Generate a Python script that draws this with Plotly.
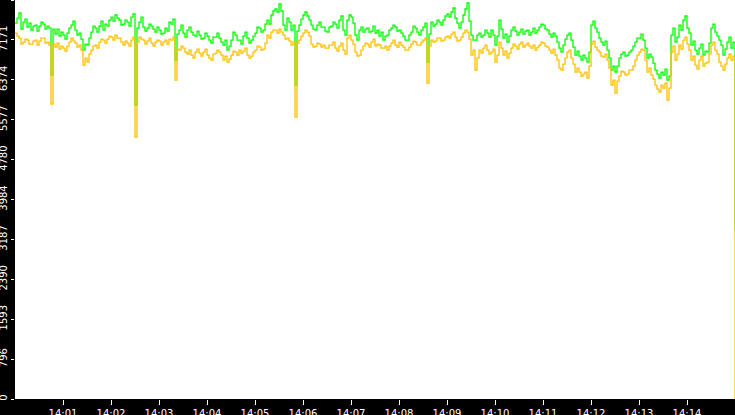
import pandas as pd
import plotly.graph_objects as go

# samples every 2.5 seconds, 14:00:00 -> 14:15:00
times = pd.date_range("2024-01-01 14:00:00", "2024-01-01 14:15:00", freq="2500ms")

green_vals = [
    7508, 7608, 7708, 7388, 7528, 7588, 7428, 7508, 7368, 7448,
    7468, 7348, 7448, 7528, 7488, 7388, 7448, 7408, 6468, 7388,
    7288, 7388, 7248, 7328, 7268, 7188, 7308, 7408, 7468, 7548,
    7368, 7268, 7308, 7188, 6968, 7088, 7068, 7208, 7328, 7448,
    7408, 7328, 7448, 7548, 7368, 7488, 7448, 7568, 7628, 7548,
    7668, 7608, 7568, 7468, 7488, 7568, 7528, 7448, 7628, 7688,
    5868, 7408, 7528, 7628, 7428, 7348, 7408, 7488, 7448, 7388,
    7328, 7428, 7368, 7288, 7308, 7408, 7348, 7528, 7488, 7588,
    6768, 7288, 7368, 7468, 7308, 7228, 7368, 7428, 7328, 7268,
    7248, 7348, 7268, 7188, 7208, 7308, 7248, 7168, 7108, 7228,
    7228, 7308, 7208, 7128, 7068, 7168, 6968, 7048, 7168, 7328,
    7268, 7168, 7168, 7088, 7248, 7328, 7208, 7108, 7168, 7248,
    7308, 7428, 7408, 7328, 7368, 7488, 7568, 7488, 7668, 7748,
    7788, 7728, 7888, 7748, 7468, 7368, 7608, 7528, 7368, 7468,
    6268, 7348, 7468, 7588, 7668, 7728, 7648, 7568, 7468, 7388,
    7368, 7468, 7528, 7428, 7428, 7348, 7328, 7428, 7448, 7528,
    7488, 7408, 7568, 7648, 7368, 7268, 7568, 7668, 7628, 7508,
    7268, 7168, 7368, 7428, 7328, 7388, 7408, 7328, 7348, 7448,
    7308, 7368, 7248, 7328, 7168, 7248, 7268, 7368, 7408, 7468,
    7428, 7348, 7368, 7308, 7248, 7168, 7168, 7268, 7328, 7448,
    7408, 7328, 7268, 7368, 7428, 7508, 6728, 7288, 7528, 7448,
    7488, 7568, 7528, 7468, 7568, 7648, 7688, 7628, 7728, 7808,
    7608, 7508, 7408, 7528, 7668, 7788, 7908, 7548, 7268, 7168,
    7168, 7268, 7308, 7228, 7268, 7368, 7308, 7228, 7368, 7268,
    7068, 7248, 7568, 7388, 7208, 7288, 7128, 7248, 7368, 7428,
    7348, 7268, 7328, 7388, 7288, 7348, 7368, 7268, 7328, 7408,
    7308, 7368, 7428, 7488, 7468, 7388, 7368, 7288, 7228, 7308,
    7248, 7128, 7008, 6928, 7068, 7188, 7268, 7308, 7168, 7028,
    6868, 6948, 6848, 6768, 6868, 6808, 6728, 6928, 7468, 7548,
    7408, 7328, 7208, 7128, 7068, 7148, 6968, 6808, 6568, 6648,
    6528, 6648, 6808, 6888, 6928, 6848, 6868, 6928, 6968, 7048,
    7128, 7208, 7208, 7288, 7168, 7008, 6808, 6888, 6828, 6708,
    6568, 6488, 6408, 6528, 6468, 6588, 6368, 6448, 7268, 7408,
    7128, 7228, 7468, 7368, 7568, 7648, 7408, 7308, 7068, 7148,
    6968, 6888, 7008, 7088, 6868, 6948, 6928, 7108, 7408, 7488,
    7328, 7248, 7168, 7068, 6868, 6988, 7128, 7228, 7008, 7128,
    3370,
]

orange_vals = [
    7308, 7248, 7208, 7088, 7128, 7188, 7168, 7088, 7088, 7148,
    7168, 7068, 7148, 7208, 7208, 7108, 7128, 7068, 5888, 7088,
    7028, 7108, 6988, 7048, 7008, 6948, 7048, 7128, 7208, 7148,
    7108, 7028, 7068, 6968, 6668, 6808, 6728, 6888, 6968, 7048,
    7068, 7008, 7128, 7188, 7168, 7108, 7188, 7248, 7228, 7168,
    7268, 7208, 7208, 7128, 7068, 7148, 7108, 7048, 7168, 7228,
    5228, 7128, 7228, 7188, 7168, 7088, 7148, 7208, 7108, 7048,
    7128, 7168, 7148, 7068, 7128, 7168, 7088, 7188, 7168, 7228,
    6368, 6988, 6968, 7048, 7008, 6928, 6888, 6968, 6868, 6808,
    6928, 6988, 6908, 6848, 6928, 6988, 6868, 6808, 6768, 6888,
    6908, 6968, 6928, 6868, 6768, 6848, 6728, 6788, 6868, 6948,
    6928, 6868, 6968, 6908, 6948, 7008, 6868, 6808, 6848, 6928,
    6968, 7048, 7028, 6968, 6988, 7108, 7268, 7208, 7328, 7368,
    7368, 7308, 7388, 7328, 7268, 7188, 7208, 7148, 7068, 7128,
    5628, 7108, 7168, 7248, 7308, 7368, 7328, 7248, 7088, 7028,
    7048, 7108, 7088, 7028, 7068, 7008, 7008, 7068, 7068, 7128,
    7008, 6948, 7048, 7108, 6968, 6888, 7208, 7268, 7168, 7088,
    6928, 6848, 6868, 6968, 7048, 7108, 7088, 7028, 7128, 7188,
    7048, 7088, 7068, 7008, 7008, 7048, 6968, 7048, 7108, 7168,
    7068, 7028, 7128, 7068, 7028, 6968, 6968, 7028, 7088, 7148,
    7128, 7068, 7068, 7128, 7168, 7208, 6308, 7048, 7168, 7128,
    7148, 7208, 7208, 7148, 7168, 7228, 7248, 7208, 7288, 7328,
    7228, 7148, 7168, 7228, 7308, 7368, 7328, 7188, 6868, 6968,
    6568, 6808, 6968, 6908, 7008, 7068, 6968, 6888, 6928, 6988,
    6728, 6868, 7128, 7008, 6868, 6948, 6808, 6908, 7008, 7088,
    7048, 6988, 7088, 7128, 7028, 7068, 7108, 7048, 7008, 7068,
    6968, 7028, 7068, 7128, 7108, 7048, 7028, 6968, 6908, 6988,
    6868, 6768, 6608, 6568, 6688, 6808, 6928, 6968, 6808, 6688,
    6528, 6608, 6528, 6448, 6488, 6528, 6408, 6648, 7088, 7148,
    7028, 6968, 6928, 6848, 6828, 6888, 6768, 6608, 6268, 6368,
    6108, 6348, 6448, 6548, 6528, 6468, 6488, 6568, 6568, 6648,
    6768, 6868, 6928, 6988, 6968, 6768, 6528, 6608, 6468, 6388,
    6268, 6188, 6128, 6268, 6208, 6308, 5968, 6208, 6928, 7048,
    6768, 6888, 7068, 6988, 7168, 7228, 7088, 6968, 6768, 6848,
    6668, 6588, 6768, 6848, 6648, 6708, 6728, 6888, 7068, 7128,
    6968, 6888, 6728, 6648, 6568, 6688, 6808, 6888, 6768, 6848,
    0,
]

y_ticks = [0, 796, 1593, 2390, 3187, 3984, 4780, 5577, 6374, 7171, 7968]
x_ticks = pd.date_range("2024-01-01 14:01:00", "2024-01-01 14:15:00", freq="1min")

fig = go.Figure()
fig.add_trace(go.Scatter(x=times, y=green_vals, mode="lines", line_shape="hv",
                         line=dict(color="#00ff00", width=1.3), name="green"))
fig.add_trace(go.Scatter(x=times, y=orange_vals, mode="lines", line_shape="hv",
                         line=dict(color="#ffc000", width=1.3), name="orange"))

fig.update_layout(
    width=735, height=415,
    margin=dict(l=15, r=0, t=0, b=16, pad=0),
    paper_bgcolor="black", plot_bgcolor="white",
    showlegend=False,
    font=dict(family="DejaVu Sans", size=10, color="white"),
)
fig.update_xaxes(range=[times[0], times[-1]], tickvals=x_ticks, tickformat="%H:%M",
                 ticks="outside", ticklen=5, tickcolor="white", showgrid=False,
                 zeroline=False, showline=False, automargin=False)
fig.update_yaxes(range=[0, 7968], tickvals=y_ticks, tickangle=-90,
                 ticks="outside", ticklen=3, tickcolor="white", showgrid=False,
                 zeroline=False, showline=False, automargin=False)

# page has a default 8px body margin; drop it so the chart fills the window
js = "document.body.style.margin='0';document.body.style.overflow='hidden';"
fig.write_html("out.html", config={"displayModeBar": False}, post_script=js)
